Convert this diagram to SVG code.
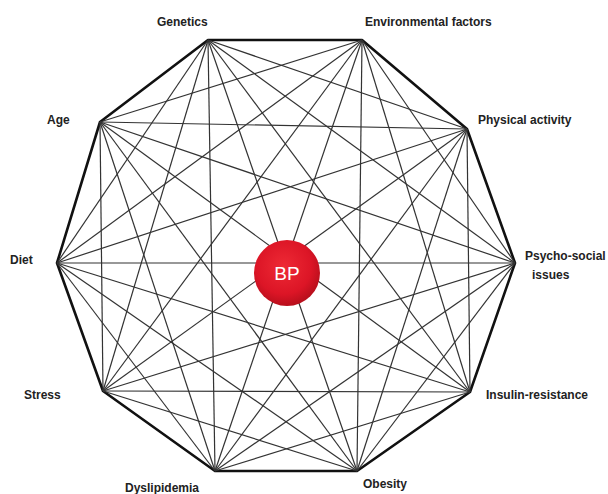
<svg xmlns="http://www.w3.org/2000/svg" width="608" height="494" viewBox="0 0 608 494">
<defs>
<radialGradient id="bpg" cx="45%" cy="40%" r="60%">
<stop offset="0" stop-color="#ee2a35"/>
<stop offset="0.7" stop-color="#dc1526"/>
<stop offset="1" stop-color="#b80f1c"/>
</radialGradient>
<style>
.edge{stroke:#111;stroke-width:2.6;fill:none;stroke-linejoin:round}
.diag{stroke:#333;stroke-width:1.2}
.lbl{font-family:"Liberation Sans",Arial,sans-serif;font-weight:bold;font-size:12px;fill:#222}
</style>
</defs>
<rect width="608" height="494" fill="#fff"/>
<g id="connectors">
<polygon class="edge" points="208,40 362,40 467,129 515,263 470,392 357,471 215,471 103,391 57,263 100,122"/>
<g class="diag">
<line x1="208" y1="40" x2="467" y2="129"/>
<line x1="208" y1="40" x2="515" y2="263"/>
<line x1="208" y1="40" x2="470" y2="392"/>
<line x1="208" y1="40" x2="357" y2="471"/>
<line x1="208" y1="40" x2="215" y2="471"/>
<line x1="208" y1="40" x2="103" y2="391"/>
<line x1="208" y1="40" x2="57" y2="263"/>
<line x1="362" y1="40" x2="515" y2="263"/>
<line x1="362" y1="40" x2="470" y2="392"/>
<line x1="362" y1="40" x2="357" y2="471"/>
<line x1="362" y1="40" x2="215" y2="471"/>
<line x1="362" y1="40" x2="103" y2="391"/>
<line x1="362" y1="40" x2="57" y2="263"/>
<line x1="362" y1="40" x2="100" y2="122"/>
<line x1="467" y1="129" x2="470" y2="392"/>
<line x1="467" y1="129" x2="357" y2="471"/>
<line x1="467" y1="129" x2="215" y2="471"/>
<line x1="467" y1="129" x2="103" y2="391"/>
<line x1="467" y1="129" x2="57" y2="263"/>
<line x1="467" y1="129" x2="100" y2="122"/>
<line x1="515" y1="263" x2="357" y2="471"/>
<line x1="515" y1="263" x2="215" y2="471"/>
<line x1="515" y1="263" x2="103" y2="391"/>
<line x1="515" y1="263" x2="57" y2="263"/>
<line x1="515" y1="263" x2="100" y2="122"/>
<line x1="470" y1="392" x2="215" y2="471"/>
<line x1="470" y1="392" x2="103" y2="391"/>
<line x1="470" y1="392" x2="57" y2="263"/>
<line x1="470" y1="392" x2="100" y2="122"/>
<line x1="357" y1="471" x2="103" y2="391"/>
<line x1="357" y1="471" x2="57" y2="263"/>
<line x1="357" y1="471" x2="100" y2="122"/>
<line x1="215" y1="471" x2="57" y2="263"/>
<line x1="215" y1="471" x2="100" y2="122"/>
<line x1="103" y1="391" x2="100" y2="122"/>
</g>
</g>
<g id="genetics"><text class="lbl" x="157" y="26">Genetics</text></g>
<g id="environmental-factors"><text class="lbl" x="365" y="26">Environmental factors</text></g>
<g id="physical-activity"><text class="lbl" x="478" y="124">Physical activity</text></g>
<g id="psycho-social-issues"><text class="lbl" x="525" y="260">Psycho-social</text><text class="lbl" x="532" y="279">issues</text></g>
<g id="insulin-resistance"><text class="lbl" x="486" y="399">Insulin-resistance</text></g>
<g id="obesity"><text class="lbl" x="363" y="488">Obesity</text></g>
<g id="dyslipidemia"><text class="lbl" x="125" y="492">Dyslipidemia</text></g>
<g id="stress"><text class="lbl" x="24" y="399">Stress</text></g>
<g id="diet"><text class="lbl" x="10" y="264">Diet</text></g>
<g id="age"><text class="lbl" x="47" y="124">Age</text></g>
<g id="bp">
<circle cx="287" cy="273" r="33" fill="url(#bpg)"/>
<text x="287" y="280" text-anchor="middle" font-family="'Liberation Sans',Arial,sans-serif" font-size="19" fill="#fff">BP</text>
</g>
</svg>
